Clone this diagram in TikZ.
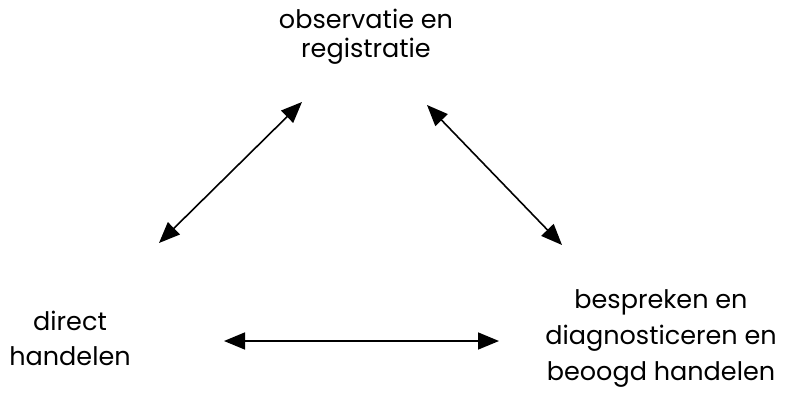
\documentclass[tikz,border=0pt]{standalone}
\usepackage{fontspec}
\setmainfont{Poppins}
\usetikzlibrary{arrows.meta}
\begin{document}
\begin{tikzpicture}[x=1pt,y=-1pt,
  lbl/.style={align=center,inner sep=0pt,anchor=base},
  link/.style={line width=1.6pt,{Triangle[length=21pt,width=17pt]}-{Triangle[length=21pt,width=17pt]}}]
\useasboundingbox (0,0) rectangle (787,399);
% labels are placed by the baseline of their last line
\node[lbl,font=\fontsize{25.5}{29}\selectfont] (obs) at (366,57) {observatie en\\registratie};
\node[lbl,font=\fontsize{25.5}{35}\selectfont] (dir) at (70,365) {direct\\handelen};
\node[lbl,font=\fontsize{25.5}{36}\selectfont] (bes) at (661,380) {bespreken en\\diagnosticeren en\\beoogd handelen};
\coordinate (a1) at (159,243);
\coordinate (a2) at (302,102);
\coordinate (b1) at (427,105);
\coordinate (b2) at (562,245);
\coordinate (c1) at (224,341);
\coordinate (c2) at (499,341);
\draw[link] (a1) -- (a2);
\draw[link] (b1) -- (b2);
\draw[link] (c1) -- (c2);
\end{tikzpicture}
\end{document}
